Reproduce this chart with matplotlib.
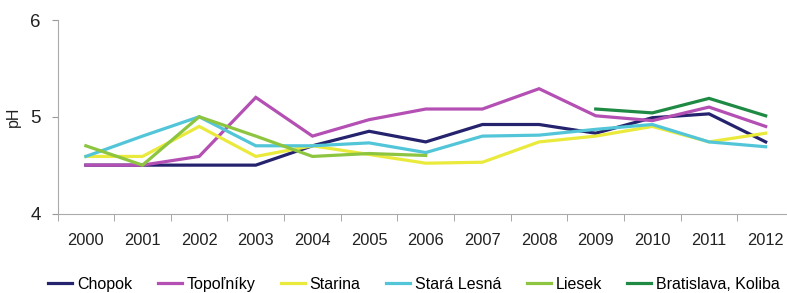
import matplotlib.pyplot as plt
import numpy as np

plt.rcParams['font.family'] = ['Liberation Sans', 'DejaVu Sans']

years = ['2000', '2001', '2002', '2003', '2004', '2005', '2006',
         '2007', '2008', '2009', '2010', '2011', '2012']
nan = np.nan

chopok = [4.50, 4.50, 4.50, 4.50, 4.70, 4.85, 4.74, 4.92, 4.92, 4.83, 4.99, 5.03, 4.74]
topolniky = [4.50, 4.50, 4.59, 5.20, 4.80, 4.97, 5.08, 5.08, 5.29, 5.01, 4.96, 5.10, 4.90]
starina = [4.59, 4.59, 4.90, 4.59, 4.70, 4.61, 4.52, 4.53, 4.74, 4.80, 4.90, 4.74, 4.83]
stara_lesna = [4.59, 4.80, 5.00, 4.70, 4.70, 4.73, 4.63, 4.80, 4.81, 4.87, 4.92, 4.74, 4.69]
liesek = [4.70, 4.50, 5.00, 4.80, 4.59, 4.62, 4.60, nan, nan, nan, nan, nan, nan]
koliba = [nan, nan, nan, nan, nan, nan, nan, nan, nan, 5.08, 5.04, 5.19, 5.01]

series = [
    ('Chopok', chopok, '#25226e'),
    ('Topoľníky', topolniky, '#b44fb4'),
    ('Starina', starina, '#eaea3c'),
    ('Stará Lesná', stara_lesna, '#52c6d8'),
    ('Liesek', liesek, '#8dc540'),
    ('Bratislava, Koliba', koliba, '#1f8a44'),
]

fig = plt.figure(figsize=(7.87, 2.93), dpi=100)
ax = fig.add_axes([0.0731, 0.2713, 0.9358, 0.6604])

x = np.arange(len(years))
for name, vals, col in series:
    ax.plot(x, vals, color=col, lw=2.3, label=name, solid_joinstyle='miter')

ax.set_xlim(-0.5, len(years) - 0.5)
ax.set_ylim(4, 6)
ax.set_yticks([4, 5, 6])
ax.set_xticks(x)
ax.set_xticklabels(years)
ax.set_xticks(np.arange(-0.5, len(years), 1), minor=True)
ax.tick_params(axis='x', which='major', length=0, pad=14, labelsize=11.8, colors='#222222')
ax.tick_params(axis='x', which='minor', length=5, color='#999999', direction='out')
ax.tick_params(axis='y', length=4, color='#999999', pad=8, labelsize=13.5, labelcolor='#222222')
ax.set_ylabel('pH', fontsize=11.5, color='#222222', labelpad=7)

for s in ['top', 'right']:
    ax.spines[s].set_visible(False)
for s in ['left', 'bottom']:
    ax.spines[s].set_color('#aaaaaa')

fig.legend(loc='center', bbox_to_anchor=(0.526, 0.03), ncol=6, frameon=False,
           fontsize=11.5, handlelength=1.5, handletextpad=0.3, columnspacing=1.6)

fig.savefig('out.png', dpi=100)
